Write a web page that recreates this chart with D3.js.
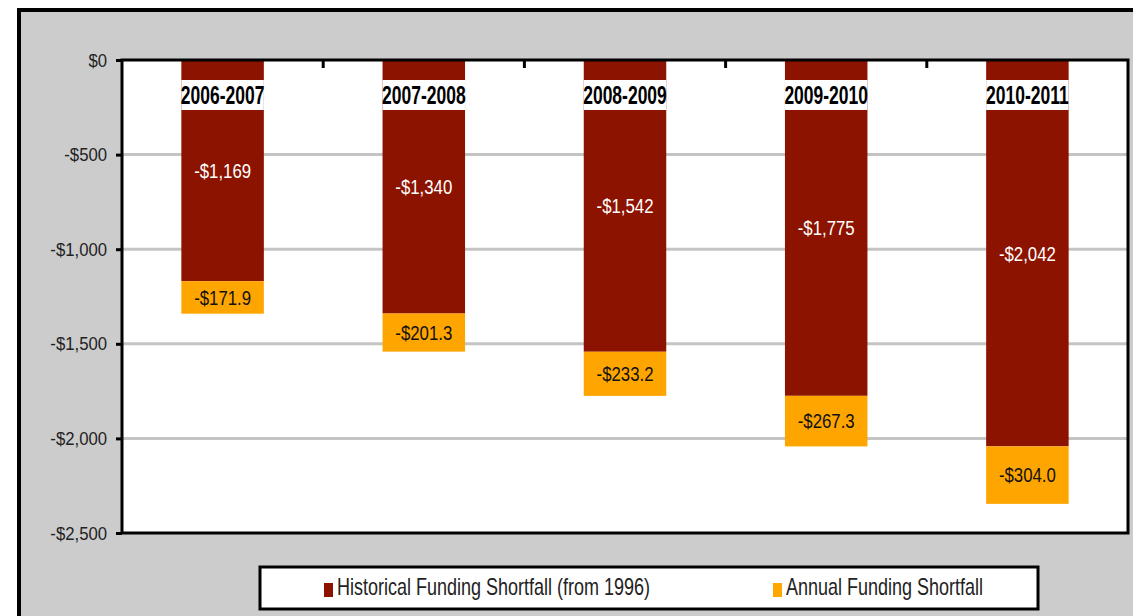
<!DOCTYPE html>
<html>
<head>
<meta charset="utf-8">
<script src="https://cdn.jsdelivr.net/npm/d3@7"></script>
<style>
  html, body { margin: 0; padding: 0; background: #fff; }
  svg { display: block; }
</style>
</head>
<body>
<div id="chart"></div>
<script>
document.addEventListener('DOMContentLoaded', function () {

  const width = 1133, height = 616;

  const categories = ['2006-2007', '2007-2008', '2008-2009', '2009-2010', '2010-2011'];
  const historical = [1169, 1340, 1542, 1775, 2042];
  const annual = [171.9, 201.3, 233.2, 267.3, 304.0];
  const yTicks = [0, -500, -1000, -1500, -2000, -2500];
  const seriesNames = ['Historical Funding Shortfall (from 1996)', 'Annual Funding Shortfall'];
  const colors = ['#8c1300', '#ffa500'];

  const plot = { left: 122, right: 1128, top: 60, bottom: 533 };
  // no narrow font available, so text gets squeezed horizontally
  const font = '"Liberation Sans", Arial, sans-serif';

  const svg = d3.select('#chart')
    .append('svg')
    .attr('width', width)
    .attr('height', height);

  // grey frame
  svg.append('rect')
    .attr('x', 19).attr('y', 10)
    .attr('width', width + 20).attr('height', height + 20)
    .attr('fill', '#cccccc')
    .attr('stroke', '#000')
    .attr('stroke-width', 4);

  // plot area
  svg.append('rect')
    .attr('x', plot.left).attr('y', plot.top)
    .attr('width', plot.right - plot.left).attr('height', plot.bottom - plot.top)
    .attr('fill', '#fff');

  const x = d3.scaleBand()
    .domain(categories)
    .range([plot.left, plot.right])
    .paddingInner(0.59)
    .paddingOuter(0.295);

  const y = d3.scaleLinear()
    .domain([-2500, 0])
    .range([plot.bottom, plot.top]);

  // gridlines
  svg.append('g')
    .selectAll('line')
    .data(yTicks.filter(d => d !== 0 && d !== -2500))
    .enter()
    .append('line')
    .attr('x1', plot.left).attr('x2', plot.right)
    .attr('y1', d => y(d)).attr('y2', d => y(d))
    .attr('stroke', '#c4c4c4')
    .attr('stroke-width', 3);

  const rows = categories.map((c, i) => ({ cat: c, hist: historical[i], ann: annual[i] }));

  const bars = svg.append('g')
    .selectAll('g')
    .data(rows)
    .enter()
    .append('g');

  bars.append('rect')
    .attr('x', d => x(d.cat))
    .attr('width', x.bandwidth())
    .attr('y', y(0))
    .attr('height', d => y(-d.hist) - y(0))
    .attr('fill', colors[0]);

  bars.append('rect')
    .attr('x', d => x(d.cat))
    .attr('width', x.bandwidth())
    .attr('y', d => y(-d.hist))
    .attr('height', d => y(-d.hist - d.ann) - y(-d.hist))
    .attr('fill', colors[1]);

  bars.append('text')
    .attr('transform', d => `translate(${x(d.cat) + x.bandwidth() / 2},${(y(0) + y(-d.hist)) / 2}) scale(0.8,1)`)
    .attr('dy', '0.35em')
    .attr('text-anchor', 'middle')
    .attr('fill', '#fff')
    .style('font-family', font)
    .style('font-size', '21px')
    .text(d => '-$' + d3.format(',')(d.hist));

  bars.append('text')
    .attr('transform', d => `translate(${x(d.cat) + x.bandwidth() / 2},${(y(-d.hist) + y(-d.hist - d.ann)) / 2}) scale(0.8,1)`)
    .attr('dy', '0.35em')
    .attr('text-anchor', 'middle')
    .attr('fill', '#111')
    .style('font-family', font)
    .style('font-size', '21px')
    .text(d => '-$' + d3.format('.1f')(d.ann));

  // category labels at the top, on a white backing
  const catLabels = svg.append('g')
    .selectAll('g')
    .data(categories)
    .enter()
    .append('g');

  catLabels.append('rect')
    .attr('x', d => x(d))
    .attr('width', x.bandwidth())
    .attr('y', 80)
    .attr('height', 30)
    .attr('fill', '#fff');

  catLabels.append('text')
    .attr('transform', d => `translate(${x(d) + x.bandwidth() / 2},95) scale(0.7,1)`)
    .attr('dy', '0.35em')
    .attr('text-anchor', 'middle')
    .attr('fill', '#000')
    .style('font-family', font)
    .style('font-weight', 'bold')
    .style('font-size', '25px')
    .text(d => d);

  // top axis: separator ticks between categories
  svg.append('g')
    .selectAll('line')
    .data(categories.slice(1))
    .enter()
    .append('line')
    .attr('x1', d => x(d) - x.step() * x.paddingInner() / 2)
    .attr('x2', d => x(d) - x.step() * x.paddingInner() / 2)
    .attr('y1', plot.top)
    .attr('y2', plot.top + 8)
    .attr('stroke', '#000')
    .attr('stroke-width', 3);

  // y axis
  const yAxis = d3.axisLeft(y)
    .tickValues(yTicks)
    .tickSize(6)
    .tickPadding(8)
    .tickFormat(d => (d < 0 ? '-$' : '$') + d3.format(',')(Math.abs(d)));

  const yg = svg.append('g')
    .attr('transform', `translate(${plot.left},0)`)
    .call(yAxis);
  yg.select('.domain').remove();
  yg.selectAll('.tick line').attr('stroke', '#000').attr('stroke-width', 3);
  yg.selectAll('.tick text')
    .attr('x', null)
    .attr('transform', 'translate(-15,0) scale(0.88,1)')
    .attr('fill', '#222')
    .style('font-family', font)
    .style('font-size', '19px');

  // plot border
  svg.append('rect')
    .attr('x', plot.left).attr('y', plot.top)
    .attr('width', plot.right - plot.left).attr('height', plot.bottom - plot.top)
    .attr('fill', 'none')
    .attr('stroke', '#000')
    .attr('stroke-width', 3);

  // legend
  const legend = svg.append('g');
  legend.append('rect')
    .attr('x', 260).attr('y', 567)
    .attr('width', 778).attr('height', 42)
    .attr('fill', '#fff')
    .attr('stroke', '#000')
    .attr('stroke-width', 3);

  const legendX = [324, 773];
  const items = legend.selectAll('g.item')
    .data(seriesNames)
    .enter()
    .append('g')
    .attr('class', 'item')
    .attr('transform', (d, i) => `translate(${legendX[i]},588)`);

  items.append('rect')
    .attr('x', 0).attr('y', -5)
    .attr('width', 9).attr('height', 14)
    .attr('fill', (d, i) => colors[i]);

  items.append('text')
    .attr('transform', 'translate(13,-1) scale(0.75,1)')
    .attr('dy', '0.33em')
    .attr('fill', '#222')
    .style('font-family', font)
    .style('font-size', '24px')
    .text(d => d);
});
</script>
</body>
</html>
